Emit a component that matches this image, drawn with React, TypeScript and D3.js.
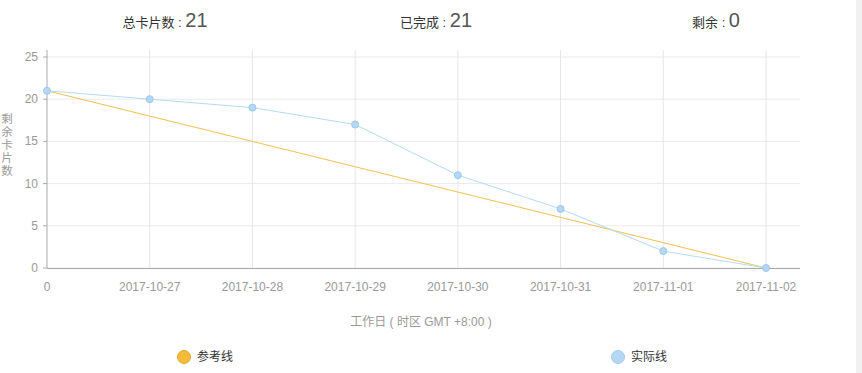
import React from 'react';
import * as d3 from 'd3';

const days = ['0', '2017-10-27', '2017-10-28', '2017-10-29', '2017-10-30', '2017-10-31', '2017-11-01', '2017-11-02'];
const referenceLine = [21, 18, 15, 12, 9, 6, 3, 0];
const actualLine = [21, 20, 19, 17, 11, 7, 2, 0];
const yTicks = [0, 5, 10, 15, 20, 25];
const summary = [
  { label: '总卡片数 : ', value: '21', x: 165 },
  { label: '已完成 : ', value: '21', x: 436 },
  { label: '剩余 : ', value: '0', x: 716 },
];

const width = 862;
const height = 373;
const font = '"Liberation Sans", "Noto Sans CJK SC", sans-serif';
const refColor = '#f2c14e';
const actColor = '#b4dbf4';

export default function App() {
  const x = d3.scalePoint<string>().domain(days).range([47, 766]);
  const y = d3.scaleLinear().domain([0, 25]).range([268, 57]);
  const line = d3
    .line<number>()
    .x((d, i) => x(days[i]) as number)
    .y((d) => y(d));

  return (
    <svg
      width={width}
      height={height}
      style={{ position: 'absolute', left: 0, top: 0, fontFamily: font }}
    >
      <rect x={0} y={0} width={width} height={height} fill="#fff" />
      <rect x={856} y={0} width={6} height={height} fill="#f1f1f1" />

      {/* header */}
      {summary.map((s) => (
        <text key={s.label} x={s.x} y={27} textAnchor="middle" fill="#333" style={{ whiteSpace: 'pre' }}>
          <tspan fontSize={13}>{s.label}</tspan>
          <tspan fontSize={20} fill="#555">{s.value}</tspan>
        </text>
      ))}

      {/* grid */}
      {yTicks.map((t) => (
        <line key={'h' + t} x1={47} x2={800} y1={y(t)} y2={y(t)} stroke="#ebebeb" />
      ))}
      {days.slice(1).map((d) => (
        <line key={'v' + d} x1={x(d)} x2={x(d)} y1={50} y2={268} stroke="#e6e6e6" />
      ))}

      {/* axes */}
      <line x1={47} x2={47} y1={50} y2={268} stroke="#aaa" />
      <line x1={47} x2={800} y1={268.5} y2={268.5} stroke="#aaa" />
      {yTicks.map((t) => (
        <g key={'yt' + t}>
          <line x1={43} x2={47} y1={y(t)} y2={y(t)} stroke="#aaa" />
          <text x={38} y={y(t) + 4} textAnchor="end" fontSize={12} fill="#999">
            {t}
          </text>
        </g>
      ))}
      {days.map((d) => (
        <text key={'xt' + d} x={x(d)} y={291} textAnchor="middle" fontSize={12} fill="#999">
          {d}
        </text>
      ))}

      {/* axis titles */}
      <text x={421} y={326} textAnchor="middle" fontSize={12} fill="#999" style={{ whiteSpace: 'pre' }}>
        工作日 ( 时区 GMT +8:00 )
      </text>
      {'剩余卡片数'.split('').map((c, i) => (
        <text key={'yl' + i} x={7} y={123 + i * 13} textAnchor="middle" fontSize={11.5} fill="#999">
          {c}
        </text>
      ))}

      {/* series */}
      <path d={line(referenceLine) || ''} fill="none" stroke={refColor} strokeWidth={1} />
      <path d={line(actualLine) || ''} fill="none" stroke={actColor} strokeWidth={1} />
      {actualLine.map((v, i) => (
        <circle
          key={'p' + i}
          cx={x(days[i])}
          cy={y(v)}
          r={3.5}
          fill="#b4d8f3"
          stroke="#9cc8ec"
          strokeWidth={1}
        />
      ))}

      {/* legend */}
      <circle cx={184} cy={357} r={6.5} fill="#f2bc3a" stroke="#e2a92a" />
      <text x={197} y={361} fontSize={12} fill="#333">参考线</text>
      <circle cx={618} cy={357} r={6.5} fill="#b4d8f3" stroke="#a0cbef" />
      <text x={631} y={361} fontSize={12} fill="#333">实际线</text>
    </svg>
  );
}
